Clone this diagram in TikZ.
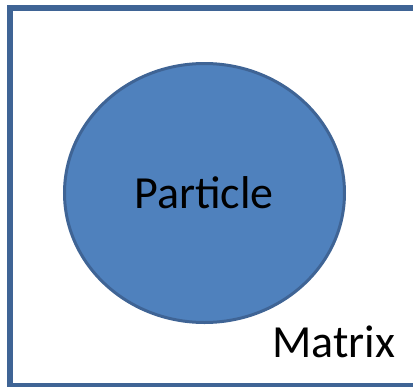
\documentclass[tikz,border=0pt]{standalone}
\usepackage{fontspec}
\setmainfont{Carlito}
\usetikzlibrary{shapes.geometric}
\definecolor{fillblue}{HTML}{4F81BD}
\definecolor{edgeblue}{HTML}{3F6495}
\tikzset{
  frame/.style={draw=edgeblue, line width=5.5bp},
  particle/.style={ellipse, draw=edgeblue, fill=fillblue, line width=3bp, inner sep=0pt, minimum width=280bp, minimum height=259bp},
  lbl/.style={font=\fontsize{46bp}{50bp}\selectfont, text=black, inner sep=0pt, anchor=base}
}
\begin{document}
\begin{tikzpicture}[x=1bp, y=-1bp]
  \useasboundingbox (0,0) rectangle (413,387);
  \clip (0,0) rectangle (413,387);
  \draw[frame] (10,8) rectangle (418,385.5);
  \node[particle] (p) at (204.5,193) {};
  \node[lbl] (plabel) at (204,208) {Particle};
  \node[lbl] (mlabel) at (334,357) {Matrix};
\end{tikzpicture}
\end{document}
